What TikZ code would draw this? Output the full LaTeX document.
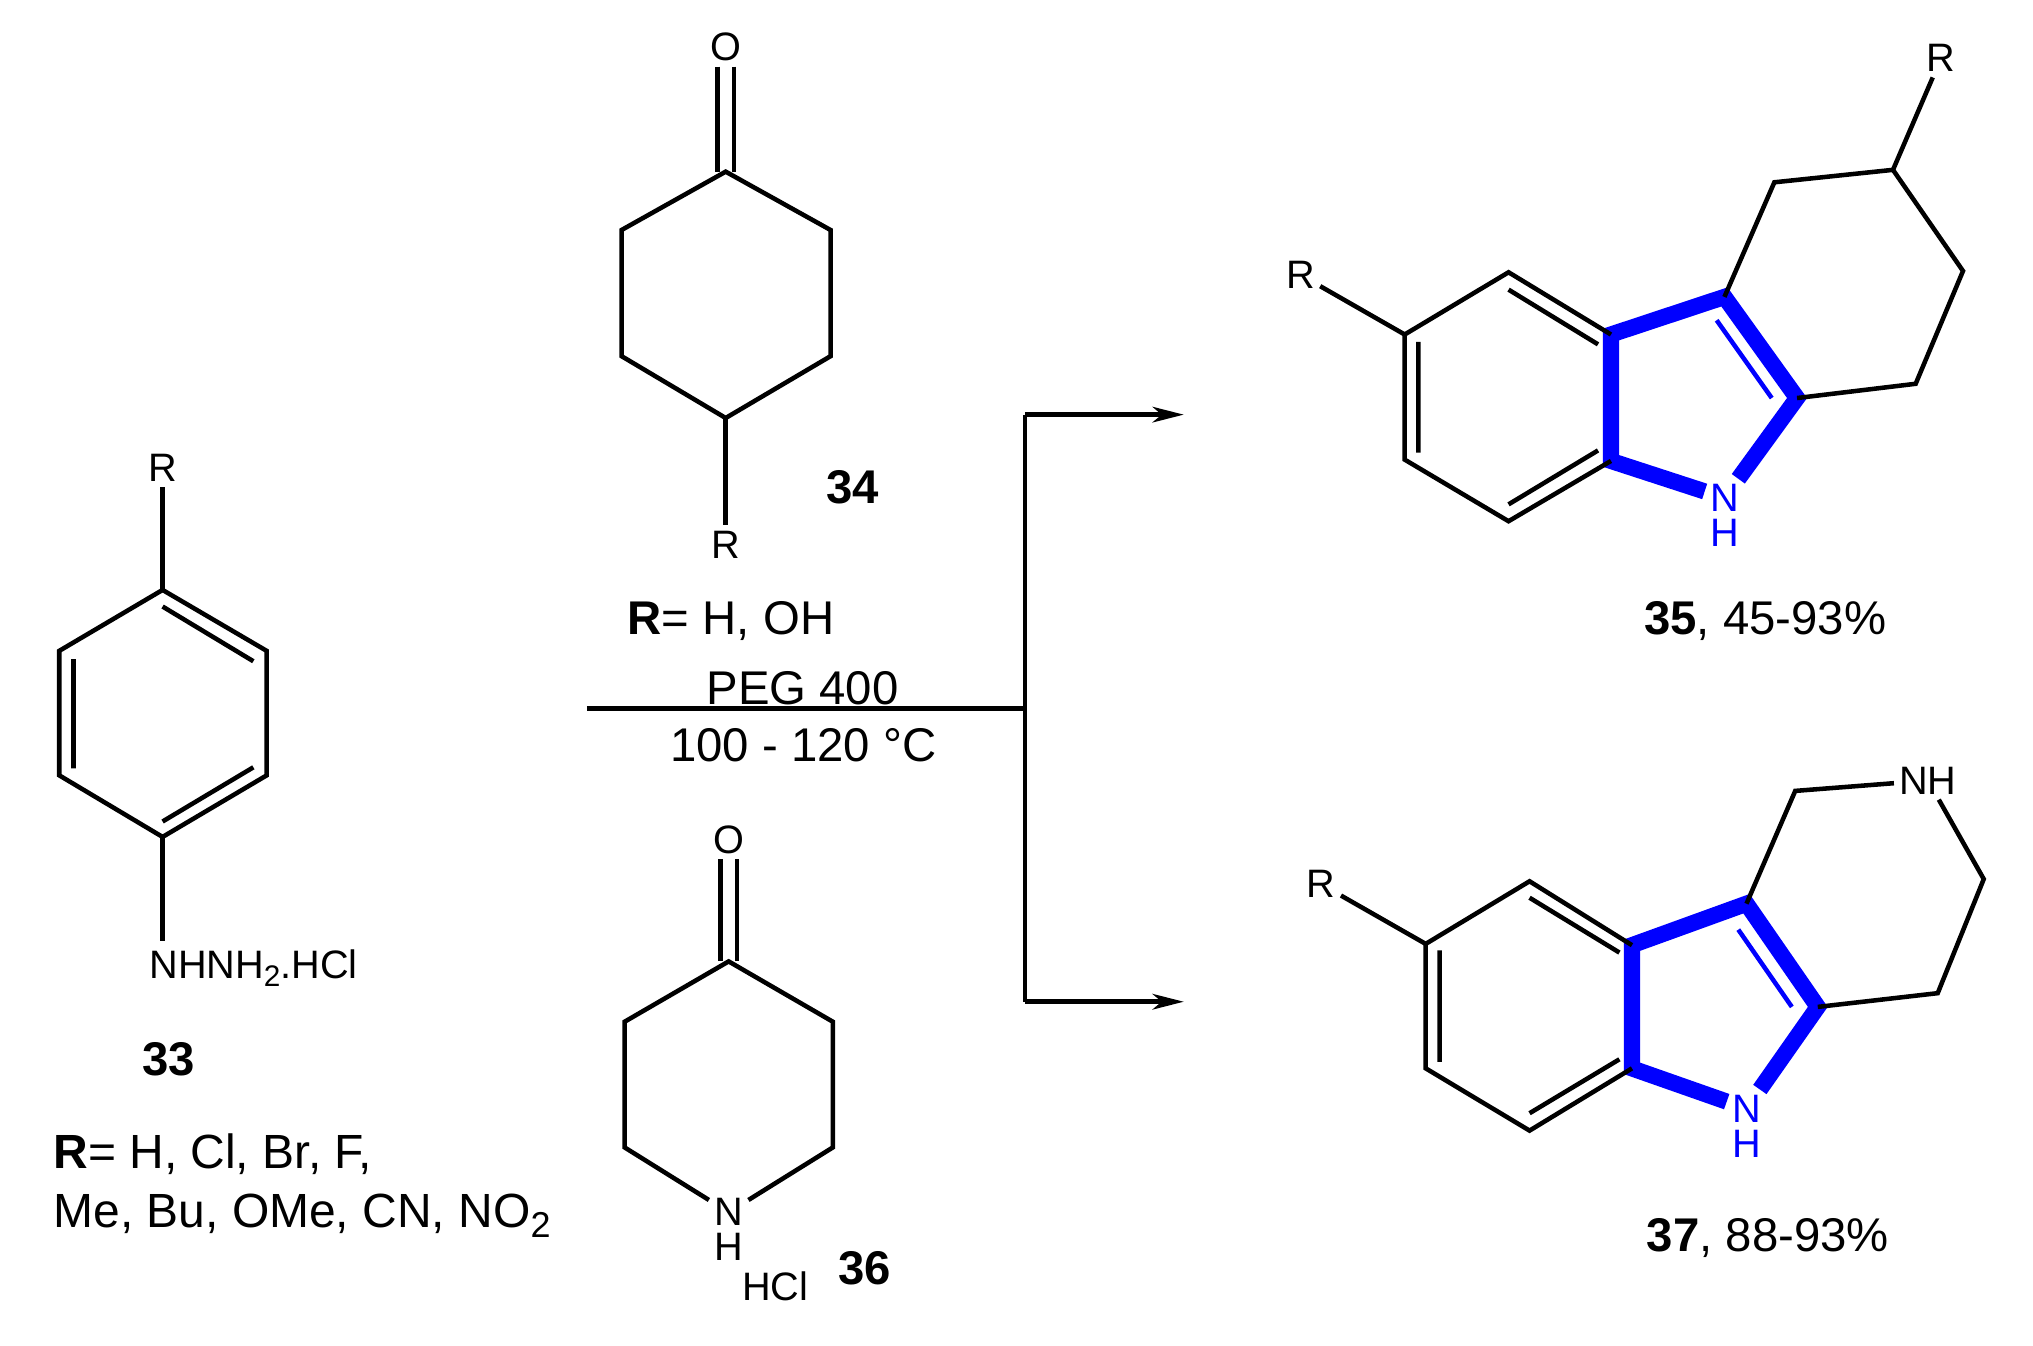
\documentclass[tikz,border=0pt]{standalone}
\usepackage{graphicx}
\usepackage{fontspec}
\setmainfont{Liberation Sans}
\usetikzlibrary{arrows.meta,calc}
\definecolor{hlblue}{RGB}{0,0,255}
\newcommand{\subnum}[1]{\raisebox{-.2em}{\scalebox{.75}{#1}}}
\tikzset{
  bond/.style={draw=black,line width=3.5pt,line cap=butt,line join=miter},
  thinblue/.style={draw=hlblue,line width=3.5pt},
  thickblue/.style={draw=hlblue,line width=12.5pt,line cap=butt,line join=miter},
  atom/.style={inner sep=4pt,font=\fontsize{30.6}{32}\selectfont},
  blueatom/.style={atom,text=hlblue},
  txt/.style={inner sep=0pt,font=\fontsize{36.5}{38}\selectfont},
  rxn/.style={draw=black,line width=3.5pt},
  rxnarrow/.style={rxn,-{Stealth[length=24pt,width=12pt,inset=7pt]}}
}
\begin{document}
\begin{tikzpicture}[x=1pt,y=-1pt]
\useasboundingbox[fill=white] (0,0) rectangle (1568,1038);

% ---- 33
\coordinate (A1) at (125.4,455);
\coordinate (A2) at (205.7,502);
\coordinate (A3) at (205.7,598);
\coordinate (A4) at (125.4,645.5);
\coordinate (A5) at (45.7,598);
\coordinate (A6) at (45.7,502);
\coordinate (A1i) at (125.4,467.8);
\coordinate (A2i) at (195.4,510);
\coordinate (A3i) at (195.4,591.8);
\coordinate (A4i) at (125.4,633.6);
\coordinate (A5i) at (56.7,592.6);
\coordinate (A6i) at (56.7,508.4);
\node[atom] (AR) at (125.4,361) {R};
\node[inner sep=0pt,font=\fontsize{30.6}{32}\selectfont,anchor=base west] (AN) at (115,755) {NHNH\subnum{2}.HCl};
\coordinate (ANb) at (125.4,726);
\draw[bond] (A1)--(A2)--(A3)--(A4)--(A5)--(A6)--cycle;
\draw[bond] (A1i)--(A2i) (A3i)--(A4i) (A5i)--(A6i);
\draw[bond] (A1)--(AR);
\draw[bond] (A4)--(ANb);
\node[txt,font=\fontsize{36.5}{38}\selectfont\bfseries] (L33) at (130,817) {33};
\node[txt,font=\fontsize{37}{38}\selectfont,anchor=base west] (LRa) at (41,901) {\textbf{R}= H, Cl, Br, F,};
\node[txt,font=\fontsize{37}{38}\selectfont,anchor=base west] (LRb) at (41,947) {Me, Bu, OMe, CN, NO\subnum{2}};

% ---- 34
\node[atom] (BO) at (559.7,36.4) {O};
\coordinate (B1) at (559.7,132.4);
\coordinate (B2) at (640.6,177.4);
\coordinate (B3) at (640.6,274.7);
\coordinate (B4) at (559.7,322.4);
\coordinate (B5) at (479.4,274.7);
\coordinate (B6) at (479.4,177.4);
\node[atom] (BR) at (559.7,420) {R};
\draw[bond] (B1)--(B2)--(B3)--(B4)--(B5)--(B6)--cycle;
\draw[bond] ([xshift=-6.5pt]BO.south)--([xshift=-6.5pt]B1);
\draw[bond] ([xshift=6.5pt]BO.south)--([xshift=6.5pt]B1);
\draw[bond] (B4)--(BR);
\node[txt,font=\fontsize{36.5}{38}\selectfont\bfseries] (L34) at (657.5,376) {34};
\node[txt,anchor=base west] (LRc) at (484,489) {\textbf{R}= H, OH};

% ---- conditions
\node[txt,anchor=base] (PEG) at (619,543) {PEG 400};
\node[txt,anchor=base] (TMP) at (619.5,587) {100 - 120 °C};
\coordinate (S0) at (452.6,546.5);
\coordinate (S1) at (790.7,546.5);
\coordinate (S2) at (790.7,319.8);
\coordinate (S3) at (790.7,772.6);
\coordinate (T1) at (913,319.8);
\coordinate (T2) at (913,772.6);
\draw[rxn] (S0)--(S1);
\draw[rxnarrow] (S2)--(T1);
\draw[rxnarrow] (S3)--(T2);
\draw[rxn,line cap=square] (S2)--(S3);

% ---- 36
\node[atom] (CO) at (562,647.5) {O};
\coordinate (C1) at (562,741.5);
\coordinate (C2) at (642.3,788);
\coordinate (C3) at (642.3,885);
\coordinate (C5) at (481.8,885);
\coordinate (C6) at (481.8,788);
\node[atom] (CN) at (562,935) {N};
\node[atom] (CH) at (562,962) {H};
\draw[bond] (CN)--(C3)--(C2)--(C1)--(C6)--(C5)--(CN);
\draw[bond] ([xshift=-6.5pt]CO.south)--([xshift=-6.5pt]C1);
\draw[bond] ([xshift=6.5pt]CO.south)--([xshift=6.5pt]C1);
\node[inner sep=0pt,font=\fontsize{30.6}{32}\selectfont,anchor=base] (CHCl) at (598,1003) {HCl};
\node[txt,font=\fontsize{36.5}{38}\selectfont\bfseries] (L36) at (667,978) {36};

% ---- 35
\coordinate (D1) at (1083.4,258);
\coordinate (D2) at (1163.5,210);
\coordinate (D3) at (1242.5,258);
\coordinate (D4) at (1242.5,355.5);
\coordinate (D5) at (1163.5,402);
\coordinate (D6) at (1083.4,354.5);
\coordinate (D7) at (1330,229);
\coordinate (D8) at (1386,307);
\coordinate (D9) at (1368.5,140.6);
\coordinate (D10) at (1460,131);
\coordinate (D11) at (1514,209);
\coordinate (D12) at (1477.5,296);
\coordinate (D2a) at (1163.5,223.4);
\coordinate (D3a) at (1232.5,265.6);
\coordinate (D4a) at (1232.5,347.4);
\coordinate (D5a) at (1163.5,389);
\coordinate (D1a) at (1094,263.6);
\coordinate (D6a) at (1094,349);
\coordinate (D7a) at (1324,247);
\coordinate (D8a) at (1366.5,307);
\node[blueatom] (DN) at (1330,384) {N};
\node[blueatom] (DH) at (1330,411) {H};
\node[atom] (DRa) at (1003,212) {R};
\node[atom] (DRb) at (1497,45) {R};
\draw[thickblue] (DN)--(D4)--(D3)--(D7)--(D8)--(DN);
\draw[thinblue] (D7a)--(D8a);
\draw[bond] (D3)--(D2)--(D1)--(D6)--(D5)--(D4);
\draw[bond] (D2a)--(D3a) (D4a)--(D5a) (D1a)--(D6a);
\draw[bond] (D1)--(DRa);
\draw[bond] (D7)--(D9)--(D10)--(D11)--(D12)--(D8);
\draw[bond] (D10)--(DRb);
\node[txt,anchor=base west] (L35) at (1268,489.5) {\textbf{35}, 45-93\%};

% ---- 37
\coordinate (E1) at (1099.6,728);
\coordinate (E2) at (1179.7,679.7);
\coordinate (E3) at (1258.7,729);
\coordinate (E4) at (1258.7,824);
\coordinate (E5) at (1179.7,872);
\coordinate (E6) at (1099.6,824);
\coordinate (E7) at (1347,697);
\coordinate (E8) at (1402,776.6);
\coordinate (E9) at (1384.6,610);
\coordinate (E11) at (1530,678);
\coordinate (E12) at (1494.5,766);
\coordinate (E2a) at (1179.7,692.4);
\coordinate (E3a) at (1249,734.7);
\coordinate (E4a) at (1249,817);
\coordinate (E5a) at (1179.7,858.6);
\coordinate (E1a) at (1110.4,733);
\coordinate (E6a) at (1110.4,819);
\coordinate (E7a) at (1340.7,717);
\coordinate (E8a) at (1382,776.6);
\node[blueatom] (EN) at (1347,855) {N};
\node[blueatom] (EH) at (1347,882) {H};
\node[atom] (ERa) at (1019,682) {R};
\node[atom] (ENH) at (1487,602) {NH};
\draw[thickblue] (EN)--(E4)--(E3)--(E7)--(E8)--(EN);
\draw[thinblue] (E7a)--(E8a);
\draw[bond] (E3)--(E2)--(E1)--(E6)--(E5)--(E4);
\draw[bond] (E2a)--(E3a) (E4a)--(E5a) (E1a)--(E6a);
\draw[bond] (E1)--(ERa);
\draw[bond] (E7)--(E9)--(ENH);
\draw[bond] (ENH)--(E11)--(E12)--(E8);
\node[txt,anchor=base west] (L37) at (1270,965.5) {\textbf{37}, 88-93\%};
\end{tikzpicture}
\end{document}
